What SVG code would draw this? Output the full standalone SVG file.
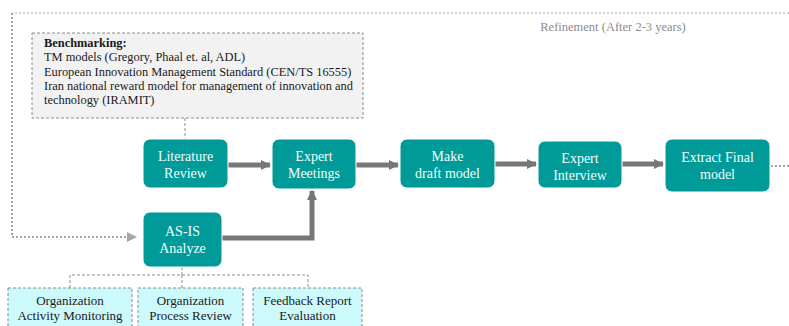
<svg xmlns="http://www.w3.org/2000/svg" width="789" height="326" viewBox="0 0 789 326">
  <style>
    .step rect { fill: #009b98; stroke: #ffffff; stroke-width: 1; }
    .step text { font-family: "Liberation Serif", serif; font-size: 14px; fill: #f2fbfb; text-anchor: middle; }
    .note rect { fill: #f2f2f2; stroke: #8c8c8c; stroke-width: 1; stroke-dasharray: 3 2; }
    .note text { font-family: "Liberation Serif", serif; font-size: 12.4px; fill: #1a1a1a; }
    .sub rect { fill: #ccf9fb; stroke: #8c8c8c; stroke-width: 1; stroke-dasharray: 3 2; }
    .sub text { font-family: "Liberation Serif", serif; font-size: 13px; fill: #1a1a1a; text-anchor: middle; }
    .flow { fill: none; stroke: #7a7676; stroke-width: 5; }
    .dash { fill: none; stroke: #8c8c8c; stroke-width: 1; stroke-dasharray: 3 2; }
    .dot { fill: none; stroke: #a6a6a6; stroke-width: 2; stroke-dasharray: 2 2; }
    .dot-thin { fill: none; stroke: #a6a6a6; stroke-width: 1.2; stroke-dasharray: 2 2; }
    .label { font-family: "Liberation Serif", serif; font-size: 12.5px; fill: #8c8c8c; }
  </style>
  <defs>
    <marker id="head" viewBox="0 0 10 10" refX="9" refY="5" markerWidth="2" markerHeight="2" orient="auto">
      <path d="M0,0 L10,5 L0,10 z" fill="#7a7676"/>
    </marker>
    <marker id="headLight" viewBox="0 0 10 10" refX="9" refY="5" markerWidth="5" markerHeight="5" orient="auto" markerUnits="strokeWidth">
      <path d="M0,0 L10,5 L0,10 z" fill="#a6a6a6"/>
    </marker>
  </defs>

  <!-- connectors -->
  <g id="connectors">
    <!-- refinement loop -->
    <path class="dot-thin" d="M789,13 H12"/>
    <path class="dot" d="M12,13 V237 H136" marker-end="url(#headLight)"/>
    <path class="dot" d="M771,166 H789"/>
    <!-- benchmarking to literature review -->
    <path class="dash" d="M185,118 V139"/>
    <!-- AS-IS to sub activities -->
    <path class="dash" d="M182,267 V275 M70,288 V275 H308 V288 M182,275 V288"/>
    <!-- main flow -->
    <path class="flow" d="M228,165 H270" marker-end="url(#head)"/>
    <path class="flow" d="M356,165 H398" marker-end="url(#head)"/>
    <path class="flow" d="M495,164 H536" marker-end="url(#head)"/>
    <path class="flow" d="M622,164 H663" marker-end="url(#head)"/>
    <path class="flow" d="M222,238 H312 V191" marker-end="url(#head)"/>
  </g>

  <text class="label" x="613" y="31" text-anchor="middle">Refinement (After 2-3 years)</text>

  <g id="benchmarking" class="note">
    <rect x="32" y="33" width="331" height="85"/>
    <text x="44" y="47" font-weight="bold">Benchmarking:</text>
    <text x="44" y="61">TM models (Gregory, Phaal et. al, ADL)</text>
    <text x="44" y="76">European Innovation Management Standard (CEN/TS 16555)</text>
    <text x="44" y="90">Iran national reward model for management of innovation and</text>
    <text x="44" y="104">technology (IRAMIT)</text>
  </g>

  <g id="literature-review" class="step">
    <rect x="143" y="139" width="85" height="49" rx="7"/>
    <text x="185.5" y="161">Literature</text>
    <text x="185.5" y="178">Review</text>
  </g>

  <g id="expert-meetings" class="step">
    <rect x="272" y="139" width="84" height="50" rx="7"/>
    <text x="314" y="161">Expert</text>
    <text x="314" y="178">Meetings</text>
  </g>

  <g id="make-draft-model" class="step">
    <rect x="400" y="139" width="95" height="49" rx="7"/>
    <text x="447.5" y="161">Make</text>
    <text x="447.5" y="178">draft model</text>
  </g>

  <g id="expert-interview" class="step">
    <rect x="538" y="141" width="84" height="47" rx="7"/>
    <text x="580" y="163">Expert</text>
    <text x="580" y="180">Interview</text>
  </g>

  <g id="extract-final-model" class="step">
    <rect x="665" y="139" width="105" height="53" rx="7"/>
    <text x="717.5" y="162">Extract Final</text>
    <text x="717.5" y="179">model</text>
  </g>

  <g id="as-is-analyze" class="step">
    <rect x="143" y="212" width="79" height="55" rx="7"/>
    <text x="182.5" y="236">AS-IS</text>
    <text x="182.5" y="253">Analyze</text>
  </g>

  <g id="activity-monitoring" class="sub">
    <rect x="8" y="288" width="124" height="45"/>
    <text x="70" y="305">Organization</text>
    <text x="70" y="320">Activity Monitoring</text>
  </g>

  <g id="process-review" class="sub">
    <rect x="138" y="288" width="105" height="45"/>
    <text x="190.5" y="305">Organization</text>
    <text x="190.5" y="320">Process Review</text>
  </g>

  <g id="feedback-evaluation" class="sub">
    <rect x="253" y="288" width="109" height="45"/>
    <text x="307.5" y="305">Feedback Report</text>
    <text x="307.5" y="320">Evaluation</text>
  </g>
</svg>
